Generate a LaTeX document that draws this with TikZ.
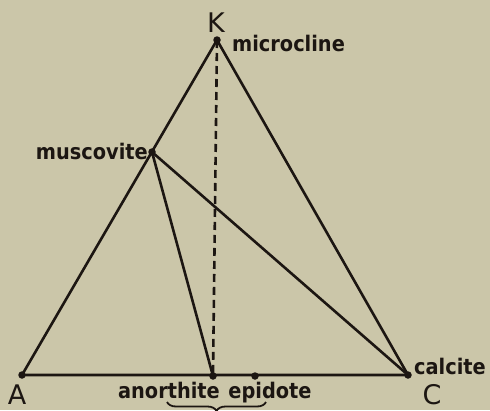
\documentclass[tikz,border=0pt]{standalone}
\usepackage{fontspec}
\setmainfont{DejaVu Sans}
\newfontfamily\condfont{DejaVu Sans Condensed}
\usetikzlibrary{decorations.pathreplacing}
\definecolor{paper}{HTML}{CBC6A9}
\definecolor{ink}{HTML}{1C1612}
\tikzset{
  font=\fontsize{21.5}{24}\condfont\bfseries,
  edge/.style={draw=ink, line width=2.6pt},
  tieline/.style={edge, dash pattern=on 8pt off 5pt},
  dot/.style={circle, fill=ink, inner sep=0pt, minimum size=7.5pt},
  lbl/.style={text=ink, inner sep=0pt},
  corner/.style={lbl, font=\fontsize{27}{28}\selectfont\rmfamily\mdseries},
}
\begin{document}
\begin{tikzpicture}[x=1pt, y=-1pt]
\useasboundingbox (0,0) rectangle (490,410);
\fill[paper] (0,0) rectangle (490,410);
% corners of the triangle
\node[dot] (K) at (217,40) {};
\node[dot] (A) at (22,375) {};
\node[dot] (C) at (408,375) {};
% phases on the edges
\node[dot] (mu) at (152,152) {};
\node[dot] (an) at (213,376) {};
\node[dot] (ep) at (255,376) {};
% edges
\draw[edge] (K.center) -- (A.center) -- (C.center) -- cycle;
\draw[edge] (mu.center) -- (an.center);
\draw[edge] (mu.center) -- (C.center);
\draw[tieline] (K.center) -- (an.center);
% labels
\node[corner, anchor=base] (Klbl) at (216,32) {K};
\node[corner, anchor=base] (Albl) at (17,404) {A};
\node[corner, anchor=base] (Clbl) at (432,404) {C};
\node[lbl, anchor=base west] (Kname) at (232,51) {microcline};
\node[lbl, anchor=base east] (muname) at (148,159) {muscovite};
\node[lbl, anchor=base west] (Cname) at (414,374) {calcite};
\node[lbl, anchor=base] (anname) at (169,398) {anorthite};
\node[lbl, anchor=base] (epname) at (270,398) {epidote};
\draw[edge, line width=1.8pt, decorate, decoration={brace, mirror, amplitude=9pt}]
  (167,402) -- (266,402);
\end{tikzpicture}
\end{document}
